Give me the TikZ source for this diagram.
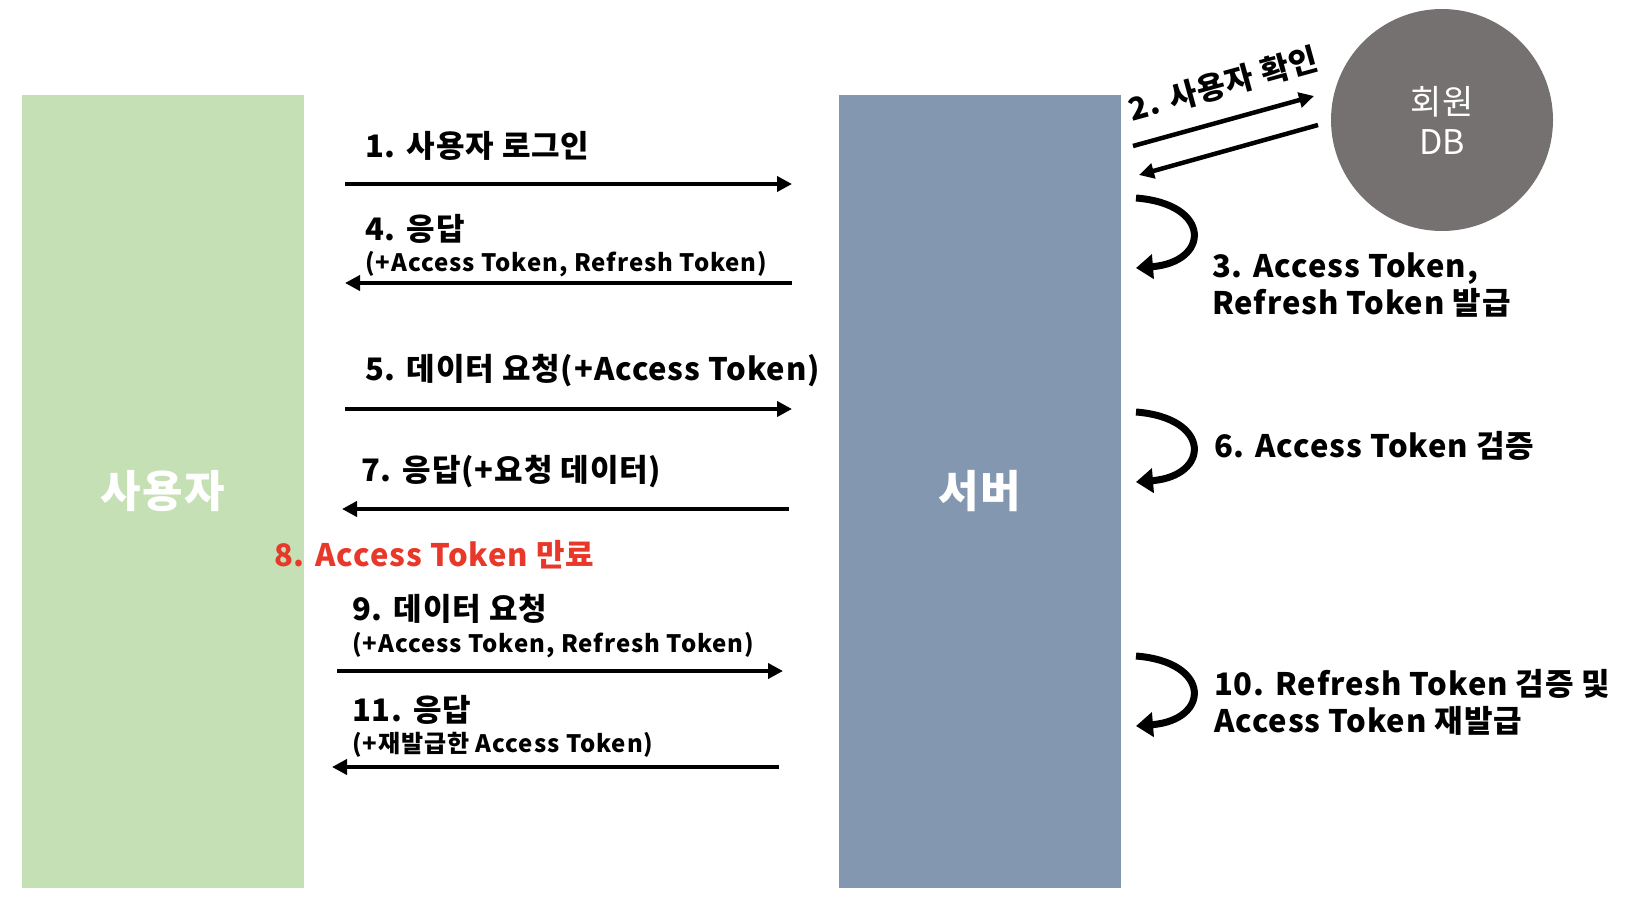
\documentclass[tikz,border=0pt]{standalone}
\usepackage{fontspec}
\setmainfont{Noto Sans CJK KR}
\usetikzlibrary{arrows.meta}
\definecolor{usergreen}{HTML}{C5E0B4}
\definecolor{serverblue}{HTML}{8497B0}
\definecolor{dbgray}{HTML}{767171}
\definecolor{alertred}{HTML}{E8382A}
\begin{document}
\begin{tikzpicture}[x=1pt,y=-1pt,
  lbl/.style={anchor=west, inner sep=0pt, align=left, font=\fontsize{31}{37}\selectfont\bfseries\addfontfeatures{LetterSpace=3}},
  sublbl/.style={anchor=west, inner sep=0pt, font=\fontsize{24}{28}\selectfont\bfseries\addfontfeatures{LetterSpace=4}},
  msg/.style={line width=4.5pt, -{Triangle[length=15pt,width=15pt]}},
  selfarrow/.style={line width=7pt, -{Triangle[length=17pt,width=24pt]}},
  block/.style={inner sep=0pt, minimum width=282pt, minimum height=793pt, text=white,
    font=\fontsize{44}{52}\selectfont\bfseries\addfontfeatures{LetterSpace=3}},
]
\useasboundingbox (0,0) rectangle (1638,916);

% lanes
\node[block, fill=usergreen] (user) at (163,491.5) {사용자};
\node[block, fill=serverblue] (server) at (980,491.5) {서버};
\node[circle, fill=dbgray, minimum size=222pt, inner sep=0pt, text=white, align=center,
  font=\fontsize{34}{40}\selectfont] (db) at (1442,120) {회원\\DB};

% message end points
\coordinate (a1s) at (345,184);  \coordinate (a1e) at (792,184);
\coordinate (a4s) at (792,283);  \coordinate (a4e) at (345,283);
\coordinate (a5s) at (345,409);  \coordinate (a5e) at (792,409);
\coordinate (a7s) at (789,509);  \coordinate (a7e) at (342,509);
\coordinate (a9s) at (337,671);  \coordinate (a9e) at (783,671);
\coordinate (a11s) at (779,767); \coordinate (a11e) at (332,767);
\coordinate (a2s) at (1133,146); \coordinate (a2e) at (1314,96);
\coordinate (a2bs) at (1318,125); \coordinate (a2be) at (1139,175);

\draw[msg] (a1s) -- (a1e);
\draw[msg] (a4s) -- (a4e);
\draw[msg] (a5s) -- (a5e);
\draw[msg] (a7s) -- (a7e);
\draw[msg] (a9s) -- (a9e);
\draw[msg] (a11s) -- (a11e);
\draw[msg] (a2s) -- (a2e);
\draw[msg] (a2bs) -- (a2be);

% self arrows on the server
\coordinate (s3a) at (1136,198); \coordinate (s3b) at (1136,268);
\coordinate (s6a) at (1136,412); \coordinate (s6b) at (1136,482);
\coordinate (s10a) at (1136,656); \coordinate (s10b) at (1136,726);
\draw[selfarrow] (s3a) .. controls (1212,204) and (1210,262) .. (s3b);
\draw[selfarrow] (s6a) .. controls (1212,418) and (1210,476) .. (s6b);
\draw[selfarrow] (s10a) .. controls (1212,662) and (1210,720) .. (s10b);

% labels
\node[lbl] (t1) at (365,146) {1. 사용자 로그인};
\node[lbl] (t4) at (365,229) {4. 응답};
\node[sublbl] (t4b) at (365,264) {(+Access Token, Refresh Token)};
\node[lbl] (t5) at (365,371) {5. 데이터 요청(+Access Token)};
\node[lbl] (t7) at (361,472) {7. 응답(+요청 데이터)};
\node[lbl, text=alertred] (t8) at (274,555) {8. Access Token 만료};
\node[lbl] (t9) at (352,609) {9. 데이터 요청};
\node[sublbl] (t9b) at (352,645) {(+Access Token, Refresh Token)};
\node[lbl] (t11) at (352,710) {11. 응답};
\node[sublbl] (t11b) at (352,745) {(+재발급한 Access Token)};
\node[lbl, anchor=center, rotate=15.4] (t2) at (1223,84) {2. 사용자 확인};
\node[lbl] (t3) at (1212,285) {3. Access Token,\\Refresh Token 발급};
\node[lbl] (t6) at (1214,446) {6. Access Token 검증};
\node[lbl] (t10) at (1214,702) {10. Refresh Token 검증 및\\Access Token 재발급};
\end{tikzpicture}
\end{document}
